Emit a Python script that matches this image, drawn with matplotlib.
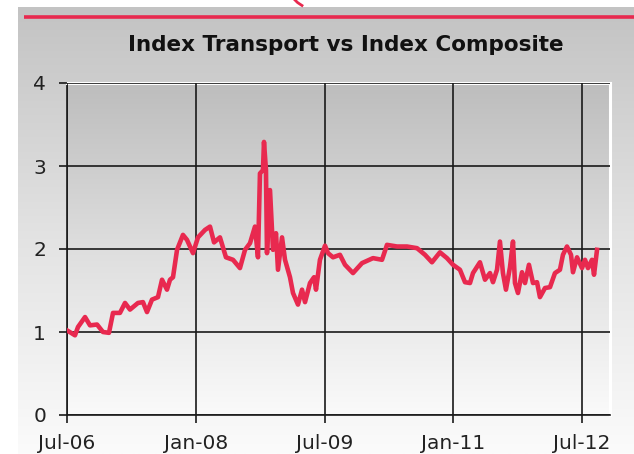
import numpy as np
import matplotlib
matplotlib.use("Agg")
import matplotlib.pyplot as plt
from matplotlib.lines import Line2D

# Ratio of the transport index to the composite index (decimal years)
years = [
    2006.500, 2006.593, 2006.628, 2006.710, 2006.768, 2006.850, 2006.919, 2006.989,
    2007.036, 2007.117, 2007.176, 2007.234, 2007.327, 2007.385, 2007.432, 2007.490,
    2007.560, 2007.607, 2007.665, 2007.700, 2007.735, 2007.782, 2007.851, 2007.898,
    2007.968, 2008.026, 2008.108, 2008.166, 2008.213, 2008.282, 2008.317, 2008.352,
    2008.434, 2008.515, 2008.574, 2008.632, 2008.690, 2008.725, 2008.748, 2008.783,
    2008.795, 2008.818, 2008.830, 2008.865, 2008.900, 2008.935, 2008.958, 2009.005,
    2009.040, 2009.098, 2009.133, 2009.191, 2009.238, 2009.273, 2009.331, 2009.378,
    2009.401, 2009.447, 2009.506, 2009.541, 2009.599, 2009.680, 2009.739, 2009.832,
    2009.937, 2010.065, 2010.170, 2010.228, 2010.345, 2010.461, 2010.578, 2010.671,
    2010.752, 2010.845, 2010.927, 2010.997, 2011.078, 2011.137, 2011.195, 2011.230,
    2011.311, 2011.370, 2011.428, 2011.463, 2011.510, 2011.544, 2011.579, 2011.614,
    2011.661, 2011.696, 2011.719, 2011.754, 2011.801, 2011.836, 2011.882, 2011.929,
    2011.976, 2012.010, 2012.069, 2012.127, 2012.185, 2012.243, 2012.278, 2012.325,
    2012.372, 2012.395, 2012.442, 2012.500, 2012.535, 2012.570, 2012.616, 2012.640,
    2012.675,
]
ratio = [
    1.02, 0.96, 1.06, 1.18, 1.08, 1.09, 1.00, 0.99,
    1.23, 1.23, 1.35, 1.27, 1.35, 1.36, 1.24, 1.39,
    1.42, 1.63, 1.51, 1.63, 1.66, 1.99, 2.17, 2.11,
    1.95, 2.14, 2.23, 2.27, 2.08, 2.14, 2.02, 1.90,
    1.87, 1.77, 1.99, 2.07, 2.27, 1.90, 2.91, 2.95,
    3.29, 2.95, 1.95, 2.71, 1.99, 2.19, 1.75, 2.14,
    1.87, 1.66, 1.47, 1.33, 1.51, 1.36, 1.59, 1.66,
    1.51, 1.87, 2.04, 1.95, 1.90, 1.93, 1.81, 1.71,
    1.83, 1.89, 1.87, 2.05, 2.03, 2.03, 2.01, 1.93,
    1.84, 1.96, 1.89, 1.81, 1.75, 1.60, 1.59, 1.71,
    1.84, 1.63, 1.71, 1.60, 1.75, 2.09, 1.71, 1.51,
    1.78, 2.09, 1.59, 1.47, 1.72, 1.59, 1.81, 1.59,
    1.60, 1.42, 1.53, 1.54, 1.71, 1.75, 1.93, 2.03,
    1.93, 1.72, 1.90, 1.77, 1.87, 1.77, 1.87, 1.69,
    1.99,
]

tick_pos = [2006.5, 2008.0, 2009.5, 2011.0, 2012.5]
tick_labels = ["Jul-06", "Jan-08", "Jul-09", "Jan-11", "Jul-12"]
y_ticks = [0, 1, 2, 3, 4]
title = "Index Transport vs Index Composite"

RED = "#e8294f"
W, H = 634, 454

fig = plt.figure(figsize=(W / 100, H / 100), dpi=100)
fig.patch.set_facecolor("white")

# Grey panel behind the chart, fading to white towards the bottom
panel = fig.add_axes([18 / W, 0, 1 - 18 / W, 1 - 7 / H], zorder=0)
grad = np.linspace(0, 1, 256).reshape(-1, 1)
panel_cmap = matplotlib.colors.LinearSegmentedColormap.from_list(
    "panel", ["#c3c3c3", "#e2e2e2", "#fbfbfb"])
panel.imshow(grad, aspect="auto", cmap=panel_cmap, extent=[0, 1, 0, 1],
             origin="upper")
panel.set_axis_off()

# Accent rule across the top of the panel
fig.add_artist(Line2D([24 / W, 1], [1 - 17 / H, 1 - 17 / H], color=RED,
                      lw=2.6, solid_capstyle="butt"))
# Small arc peeking in above the panel
fig.add_artist(Line2D([295 / W, 297.5 / W, 300 / W, 302 / W],
                      [1 - 0 / H, 1 - 2.5 / H, 1 - 4.2 / H, 1 - 5.5 / H],
                      color=RED, lw=2.0))

ax = fig.add_axes([67 / W, 39 / H, 543 / W, 332 / H], zorder=1)
x0, x1 = 2006.5, 2006.5 + 543 * 6 / 515
ax.set_xlim(x0, x1)
ax.set_ylim(0, 4)
plot_cmap = matplotlib.colors.LinearSegmentedColormap.from_list(
    "plot", ["#bdbdbd", "#dedede", "#fafafa"])
ax.imshow(grad, aspect="auto", cmap=plot_cmap, extent=[x0, x1, 0, 4],
          origin="upper", zorder=0)
ax.set_xlim(x0, x1)
ax.set_ylim(0, 4)

ax.plot(years, ratio, color=RED, lw=3.3, zorder=3, solid_joinstyle="round")

ax.set_xticks(tick_pos)
ax.set_xticklabels(tick_labels)
ax.set_yticks(y_ticks)
ax.grid(True, color="#1a1a1a", lw=1.2, zorder=2)
ax.set_axisbelow(False)
for side in ("left", "bottom"):
    ax.spines[side].set_color("#1a1a1a")
    ax.spines[side].set_linewidth(1.2)
for side in ("top", "right"):
    ax.spines[side].set_color("white")
    ax.spines[side].set_linewidth(2.2)
ax.tick_params(axis="both", direction="out", length=6, width=1.2,
               color="#1a1a1a", labelsize=14.5, labelcolor="#222222")
ax.tick_params(axis="y", pad=9)
ax.tick_params(axis="x", pad=8)

fig.text(346 / W, 1 - 45 / H, title, ha="center", va="center",
         fontsize=15.5, fontweight="bold", color="#111111")

fig.savefig("out.png", dpi=100)
